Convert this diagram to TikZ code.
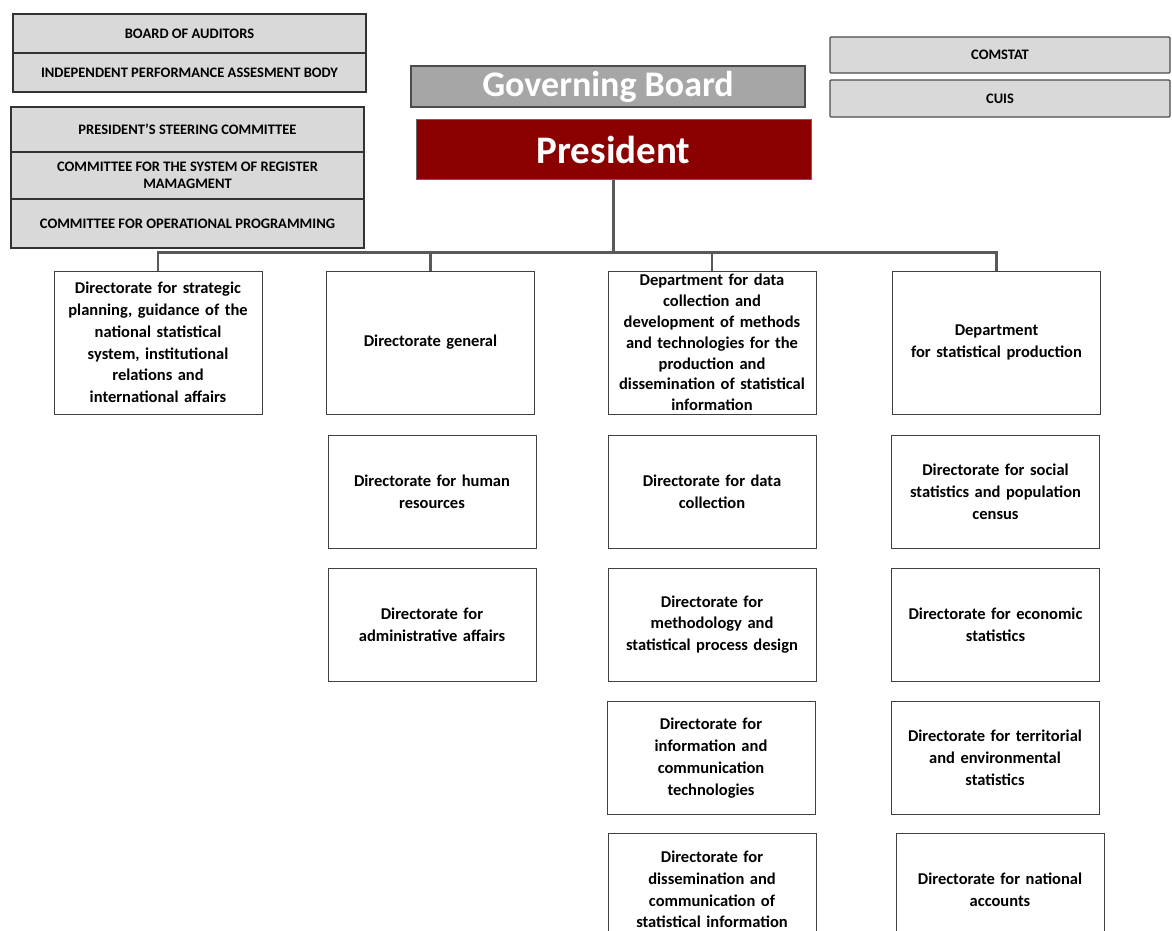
\documentclass[tikz,border=0pt]{standalone}
\usepackage{fontspec}
\setmainfont{Carlito}
\usepackage{tikz}
\usetikzlibrary{calc, positioning}
\definecolor{presred}{RGB}{139,0,0}
\definecolor{boxgray}{RGB}{217,217,217}
\definecolor{govgray}{RGB}{166,166,166}
\definecolor{linegray}{RGB}{89,89,89}

\begin{document}
\begin{tikzpicture}[x=1pt, y=-1pt,
	every node/.style={inner sep=2pt, align=center},
	board/.style={draw=black!80, line width=1.2pt, fill=boxgray, minimum width=353pt, font=\bfseries\fontsize{14.5}{17}\selectfont},
	side/.style={draw=black!70, line width=1.2pt, fill=boxgray, rounded corners=1pt, minimum width=340pt, font=\bfseries\fontsize{14.5}{17}\selectfont},
	unit/.style={draw=black!75, line width=1pt, fill=white, text width=204pt, minimum width=206pt, font=\bfseries\fontsize{16.5}{21.8}\selectfont},
	link/.style={draw=linegray, line width=2.5pt}]
	\useasboundingbox (0,0) rectangle (1172,931);

	\node[board, minimum height=39pt] (aud) at (189.5,33.5) {BOARD OF AUDITORS};
	\node[board, minimum height=39pt] (ipab) at (189.5,72.5) {INDEPENDENT PERFORMANCE ASSESMENT BODY};
	\node[board, minimum height=45pt] (psc) at (187.5,129.5) {PRESIDENT'S STEERING COMMITTEE};
	\node[board, minimum height=47pt] (csrm) at (187.5,175.5) {COMMITTEE FOR THE SYSTEM OF REGISTER\\MAMAGMENT};
	\node[board, minimum height=49pt] (cop) at (187.5,223.5) {COMMITTEE FOR OPERATIONAL PROGRAMMING};

	\node[side, minimum height=36pt] (comstat) at (1000,55) {COMSTAT};
	\node[side, minimum height=37pt] (cuis) at (1000,98.5) {CUIS};

	\node[draw=black!70, line width=1.2pt, fill=govgray, text=white, minimum width=394pt, minimum height=41pt,
		font=\bfseries\fontsize{36}{36}\selectfont] (gov) at (608,86.5) {Governing Board};
	\node[draw=black!60, line width=1pt, fill=presred, text=white, minimum width=395pt, minimum height=59pt,
		font=\bfseries\fontsize{39}{39}\selectfont] (pres) at (613.5,149.5) {President};

	\node[unit, minimum height=143pt] (strat) at (158,342.5) {Directorate for strategic\\planning, guidance of the\\national statistical\\system, institutional\\relations and\\international affairs};
	\node[unit, minimum height=143pt] (gen) at (430.5,342.5) {Directorate general};
	\node[unit, minimum height=113pt] (hr) at (432,491.5) {Directorate for human\\resources};
	\node[unit, minimum height=113pt] (adm) at (432,624.5) {Directorate for\\administrative affairs};

	\node[unit, minimum height=143pt, font=\bfseries\fontsize{16.5}{20.8}\selectfont] (dcm) at (712,342.5) {Department for data\\collection and\\development of methods\\and technologies for the\\production and\\dissemination of statistical\\information};
	\node[unit, minimum height=113pt] (coll) at (712,491.5) {Directorate for data\\collection};
	\node[unit, minimum height=113pt] (meth) at (712,624.5) {Directorate for\\methodology and\\statistical process design};
	\node[unit, minimum height=113pt] (ict) at (711,758) {Directorate for\\information and\\communication\\technologies};
	\node[unit, minimum height=113pt] (diss) at (712,889.5) {Directorate for\\dissemination and\\communication of\\statistical information};

	\node[unit, minimum height=143pt] (stat) at (996.5,342.5) {Department\\for statistical production};
	\node[unit, minimum height=113pt] (soc) at (995.5,491.5) {Directorate for social\\statistics and population\\census};
	\node[unit, minimum height=113pt] (eco) at (995.5,624.5) {Directorate for economic\\statistics};
	\node[unit, minimum height=113pt] (terr) at (995,758) {Directorate for territorial\\and environmental\\statistics};
	\node[unit, minimum height=113pt] (nat) at (1000,889.5) {Directorate for national\\accounts};

	\coordinate (bus) at ($(pres.south)+(0,73)$);
	\draw[link] (pres.south) -- (bus);
	\draw[link] (strat.north) |- (bus) -| (stat.north);
	\foreach \n in {gen, dcm}
		\draw[link] (\n.north) -- (\n.north |- bus);
\end{tikzpicture}
\end{document}
